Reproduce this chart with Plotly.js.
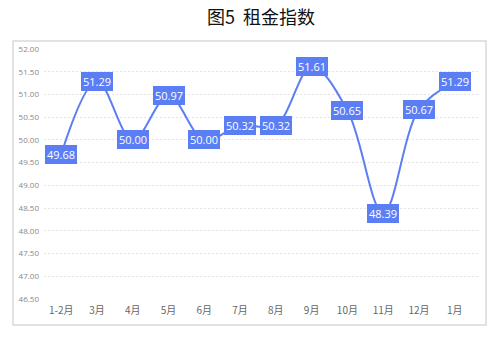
<!DOCTYPE html>
<html><head><meta charset="utf-8">
<script src="https://cdn.plot.ly/plotly-3.0.1.min.js"></script>
<style>html,body{margin:0;padding:0;background:#fff;}#c{width:500px;height:340px;}</style>
</head><body><div id="c"></div>
<script>
const categories = ['1-2月','3月','4月','5月','6月','7月','8月','9月','10月','11月','12月','1月'];
const values = [49.68, 51.29, 50.00, 50.97, 50.00, 50.32, 50.32, 51.61, 50.65, 48.39, 50.67, 51.29];
const yTicks = [46.5,47,47.5,48,48.5,49,49.5,50,50.5,51,51.5,52];

const blue = '#5b7ef5';
const trace = {
  x: categories, y: values, type: 'scatter', mode: 'lines',
  line: {shape: 'spline', smoothing: 1, color: blue, width: 2},
  hoverinfo: 'none'
};
const annotations = categories.map((c, i) => ({
  x: c, y: values[i], xref: 'x', yref: 'y', text: values[i].toFixed(2),
  showarrow: false, bgcolor: blue, borderpad: 1, bordercolor: blue, borderwidth: 1,
  font: {family: 'Open Sans, DejaVu Sans, sans-serif', size: 11, color: '#fff'}
}));
const layout = {
  width: 500, height: 340,
  margin: {l: 44, r: 22, t: 49, b: 41},
  paper_bgcolor: '#fff', plot_bgcolor: '#fff',
  title: {text: '图5  租金指数', x: 0.5, xref: 'paper', xanchor: 'center', y: 0.948, yanchor: 'middle',
    font: {family: 'Noto Sans CJK SC', size: 18, color: '#111'}},
  xaxis: {type: 'category', range: [-0.48, 11.65], showgrid: false, zeroline: false, showline: false,
    ticks: '', tickfont: {family: 'Noto Sans CJK SC', size: 10, color: '#666'}, ticklabelstandoff: 4},
  yaxis: {range: [46.5, 52], tickvals: yTicks, ticktext: yTicks.map(v => v.toFixed(2)),
    showgrid: true, gridcolor: '#e4e4e4', griddash: '2px,2px', gridwidth: 1, zeroline: false, showline: false,
    ticks: '', tickfont: {family: 'Open Sans, DejaVu Sans, sans-serif', size: 8, color: '#888'}, ticklabelstandoff: 4},
  shapes: [{type: 'rect', xref: 'paper', yref: 'paper', x0: -31/434, x1: 1 + 8/434, y0: -26/250, y1: 1 + 8/250,
    line: {color: '#d9d9d9', width: 1.5}, fillcolor: 'rgba(0,0,0,0)', layer: 'below'}],
  annotations: annotations,
  showlegend: false
};
Plotly.newPlot('c', [trace], layout, {displayModeBar: false, staticPlot: true});
</script></body></html>
